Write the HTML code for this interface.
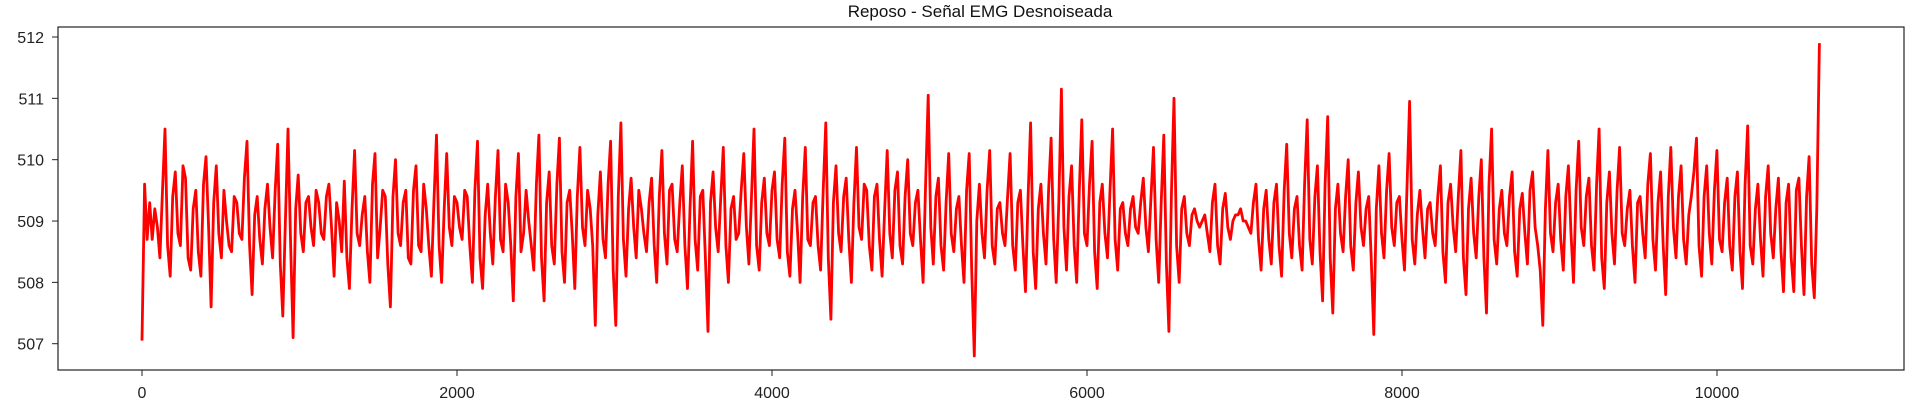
<!DOCTYPE html>
<html><head><meta charset="utf-8"><style>
html,body{margin:0;padding:0;background:#fff;}
svg{display:block;font-family:"Liberation Sans","DejaVu Sans",sans-serif;}
</style></head><body>
<svg id="chart" width="1916" height="413" viewBox="0 0 1916 413" xmlns="http://www.w3.org/2000/svg">
<text x="980" y="17" font-size="17" text-anchor="middle" fill="#111">Reposo - Señal EMG Desnoiseada</text>
<g id="plot"></g>
<rect x="58" y="27" width="1846" height="343" fill="none" stroke="#222" stroke-width="1.2"/>
<g id="xaxis"></g><g id="yaxis"></g>
</svg>
<script>
const xTicks=[0,2000,4000,6000,8000,10000];
const yTicks=[507,508,509,510,511,512];
const sampleEnd=10650;
const signal=[
507.05,509.6,508.7,509.3,508.7,509.2,508.9,508.4,509.5,510.5,508.6,508.1,509.4,509.8,508.8,508.6,509.9,509.7,508.4,508.2,509.2,509.5,508.5,508.1,509.6,510.05,508.9,507.6,509.3,509.9,508.8,508.4,509.5,509.0,508.6,508.5,509.4,509.3,508.8,
508.7,509.7,510.3,508.6,507.8,509.1,509.4,508.7,508.3,509.2,509.6,508.9,508.4,509.5,510.25,508.3,507.45,509.0,510.5,508.7,507.1,509.2,509.75,508.8,508.5,509.3,509.4,508.9,508.6,509.5,509.3,508.8,508.7,509.4,509.6,508.9,508.1,509.3,509.0,
508.5,509.65,508.4,507.9,509.2,510.15,508.8,508.6,509.1,509.4,508.5,508.0,509.6,510.1,508.4,508.9,509.5,509.4,508.3,507.6,509.4,510.0,508.8,508.6,509.3,509.5,508.4,508.3,509.5,509.9,508.6,508.5,509.6,509.2,508.6,508.1,509.3,510.4,508.6,508.0,509.2,
510.1,508.9,508.6,509.4,509.3,508.9,508.7,509.5,509.4,508.6,508.0,509.5,510.3,508.4,507.9,509.1,509.6,508.8,508.3,509.4,510.15,508.7,508.5,509.6,509.3,508.6,507.7,509.4,510.1,508.5,508.8,509.5,509.0,508.6,508.2,509.6,510.4,508.4,507.7,509.3,
509.8,508.6,508.3,509.6,510.35,508.5,508.0,509.3,509.5,508.8,507.9,509.4,510.2,508.9,508.6,509.5,509.2,508.6,507.3,509.1,509.8,508.7,508.4,509.6,510.3,508.2,507.3,509.4,510.6,508.7,508.1,509.2,509.7,508.9,508.4,509.5,509.2,508.8,508.5,509.3,
509.7,508.6,508.0,509.4,510.15,508.8,508.3,509.5,509.6,508.7,508.5,509.3,509.9,508.6,507.9,509.2,510.3,508.7,508.2,509.4,509.5,508.4,507.2,509.3,509.8,508.9,508.5,509.4,510.2,508.6,508.0,509.2,509.4,508.7,508.8,509.5,510.1,508.9,508.3,509.4,
510.5,508.6,508.2,509.3,509.7,508.8,508.6,509.5,509.8,508.7,508.4,509.6,510.35,508.5,508.1,509.2,509.5,508.8,508.0,509.4,510.2,508.7,508.6,509.3,509.4,508.6,508.2,509.5,510.6,508.4,507.4,509.3,509.9,508.8,508.5,509.4,509.7,508.7,508.0,509.3,
510.2,508.9,508.7,509.6,509.5,508.6,508.2,509.4,509.6,508.7,508.1,509.2,510.15,508.8,508.4,509.5,509.8,508.6,508.3,509.4,510.0,508.8,508.6,509.3,509.5,508.7,508.0,509.6,511.05,508.9,508.3,509.4,509.7,508.6,508.2,509.3,510.1,508.8,508.5,509.2,
509.4,508.6,508.0,509.5,510.1,508.2,506.8,509.0,509.6,508.8,508.4,509.5,510.15,508.6,508.3,509.2,509.3,508.8,508.6,509.4,510.1,508.6,508.2,509.3,509.5,508.6,507.85,509.4,510.6,508.5,507.9,509.2,509.6,508.8,508.3,509.5,510.35,508.7,508.0,509.3,
511.15,508.9,508.2,509.4,509.9,508.6,508.0,509.5,510.65,508.8,508.6,509.6,510.3,508.5,507.9,509.3,509.6,508.8,508.4,509.5,510.5,508.7,508.2,509.2,509.3,508.8,508.6,509.2,509.4,508.9,508.8,509.3,509.7,508.9,508.5,509.4,510.2,508.7,508.0,509.3,
510.4,508.3,507.2,509.5,511.0,508.6,508.0,509.2,509.4,508.8,508.6,509.1,509.2,509.0,508.9,509.0,509.1,508.8,508.5,509.3,509.6,508.6,508.3,509.2,509.45,508.9,508.7,509.0,509.1,509.1,509.2,509.0,509.0,508.9,508.8,509.3,509.6,508.7,508.2,509.2,
509.5,508.7,508.3,509.3,509.6,508.6,508.1,509.5,510.25,508.8,508.4,509.2,509.4,508.6,508.2,509.6,510.65,508.7,508.3,509.4,509.9,508.5,507.7,509.6,510.7,508.4,507.5,509.2,509.6,508.8,508.5,509.4,510.0,508.6,508.2,509.3,509.8,508.9,508.6,509.2,
509.4,508.4,507.15,509.2,509.9,508.8,508.4,509.5,510.1,508.9,508.6,509.3,509.4,508.7,508.2,509.6,510.95,508.7,508.3,509.1,509.5,508.9,508.4,509.2,509.3,508.8,508.6,509.4,509.9,508.5,508.0,509.3,509.6,508.9,508.5,509.4,510.15,508.4,507.8,509.2,
509.7,508.8,508.4,509.4,510.0,508.4,507.5,509.6,510.5,508.7,508.3,509.2,509.5,508.8,508.6,509.4,509.8,508.5,508.1,509.2,509.45,508.8,508.3,509.5,509.8,508.9,508.6,508.2,507.3,509.2,510.15,508.8,508.5,509.3,509.6,508.7,508.2,509.4,509.9,508.8,
508.0,509.5,510.3,508.9,508.6,509.4,509.7,508.6,508.2,509.6,510.5,508.4,507.9,509.3,509.8,508.8,508.3,509.5,510.2,508.8,508.6,509.2,509.5,508.6,508.0,509.3,509.4,508.8,508.4,509.6,510.1,508.7,508.2,509.3,509.8,508.6,507.8,509.4,510.2,508.9,
508.4,509.4,509.9,508.7,508.3,509.1,509.4,509.8,510.35,508.6,508.1,509.4,509.9,508.8,508.3,509.5,510.15,508.7,508.5,509.3,509.7,508.6,508.2,509.4,509.8,508.5,507.9,509.6,510.55,508.6,508.3,509.2,509.6,508.7,508.1,509.4,509.9,508.8,508.4,509.2,
509.7,508.5,507.85,509.3,509.6,508.4,507.85,509.5,509.7,508.6,507.8,509.4,510.05,508.3,507.75,509.2,511.9];
const X0=142, XS=(1717-142)/10000;
const Y0=343.7, YS=(343.7-37)/5;
function xPos(v){return X0+v*XS;}
function yPos(v){return Y0-(v-507)*YS;}
const NS='http://www.w3.org/2000/svg';
const plot=document.getElementById('plot');
let d='';
signal.forEach((v,i)=>{const s=i*sampleEnd/(signal.length-1);d+=(i?'L':'M')+xPos(s).toFixed(1)+','+yPos(v).toFixed(1);});
const path=document.createElementNS(NS,'path');
path.setAttribute('d',d);path.setAttribute('fill','none');path.setAttribute('stroke','#ff0000');path.setAttribute('stroke-width','2.8');path.setAttribute('stroke-linejoin','round');


plot.appendChild(path);
const xa=document.getElementById('xaxis');
xTicks.forEach(t=>{
 const l=document.createElementNS(NS,'line');
 l.setAttribute('x1',xPos(t));l.setAttribute('x2',xPos(t));l.setAttribute('y1',370);l.setAttribute('y2',376);l.setAttribute('stroke','#222');
 
 
 xa.appendChild(l);
 const tx=document.createElementNS(NS,'text');
 tx.setAttribute('x',xPos(t));tx.setAttribute('y',398);tx.setAttribute('font-size','16');tx.setAttribute('text-anchor','middle');tx.setAttribute('fill','#222');
 tx.textContent=t;
 
 
 xa.appendChild(tx);
});
const ya=document.getElementById('yaxis');
yTicks.forEach(t=>{
 const l=document.createElementNS(NS,'line');
 l.setAttribute('x1',52);l.setAttribute('x2',58);l.setAttribute('y1',yPos(t));l.setAttribute('y2',yPos(t));l.setAttribute('stroke','#222');
 
 
 ya.appendChild(l);
 const tx=document.createElementNS(NS,'text');
 tx.setAttribute('x',44);tx.setAttribute('y',yPos(t)+6);tx.setAttribute('font-size','16');tx.setAttribute('text-anchor','end');tx.setAttribute('fill','#222');
 tx.textContent=t;
 
 
 ya.appendChild(tx);
});
</script>
</body></html>
